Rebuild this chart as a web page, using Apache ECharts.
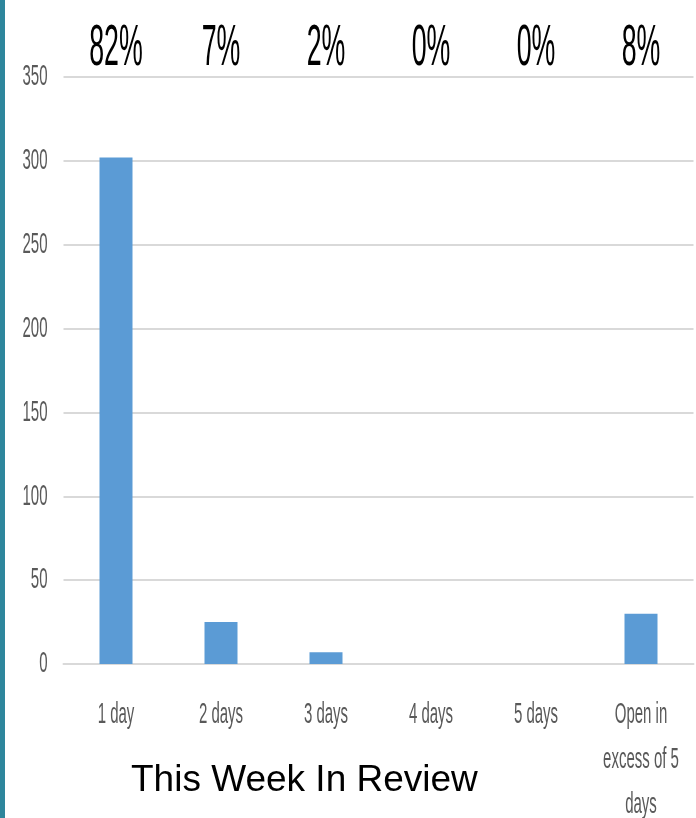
<!DOCTYPE html>
<html>
<head>
<meta charset="utf-8">
<script src="https://cdn.jsdelivr.net/npm/echarts@6/dist/echarts.min.js"></script>
<style>
  html, body { margin: 0; padding: 0; background: #fff; }
  #chart { width: 696px; height: 818px; }
</style>
</head>
<body>
<div id="chart"></div>
<script>
// values
const categories = ['1 day', '2 days', '3 days', '4 days', '5 days', 'Open in\nexcess of 5\ndays']
const counts = [302, 25, 7, 0, 0, 30]
const percentLabels = ['82%', '7%', '2%', '0%', '0%', '8%']
const yTicks = [0, 50, 100, 150, 200, 250, 300, 350]

// the source image is squashed sideways, so texts get a scaleX
const sans = '"Liberation Sans", Arial, sans-serif'
const squeeze = 0.5

const chart = echarts.init(document.getElementById('chart'))

const squashedText = (x, y, text, opts) => ({
  type: 'text',
  x: x,
  y: y,
  scaleX: opts.scale || squeeze,
  style: {
    text: text,
    x: 0,
    y: 0,
    align: opts.align || 'center',
    verticalAlign: opts.verticalAlign || 'middle',
    fontFamily: sans,
    fontSize: opts.fontSize,
    lineHeight: opts.lineHeight,
    fill: opts.color
  }
})

const option = {
  animation: false,
  backgroundColor: '#fff',
  title: {
    text: 'This Week In Review',
    left: 126,
    top: 757,
    textStyle: {
      fontFamily: sans,
      fontSize: 37,
      fontWeight: 'normal',
      color: '#000'
    }
  },
  graphic: [
    {
      type: 'rect',
      shape: { x: 0, y: 0, width: 5, height: 818 },
      style: { fill: '#2E869C' }
    }
  ],
  grid: {
    left: 63.5,
    right: 2.5,
    top: 77,
    bottom: 154,
    containLabel: false
  },
  xAxis: {
    type: 'category',
    data: categories,
    axisLine: { lineStyle: { color: '#d9d9d9', width: 2 } },
    axisTick: { show: false },
    axisLabel: { show: false }
  },
  yAxis: {
    type: 'value',
    min: yTicks[0],
    max: yTicks[yTicks.length - 1],
    interval: 50,
    axisLine: { show: false },
    axisTick: { show: false },
    splitLine: { lineStyle: { color: '#d9d9d9', width: 2 } },
    axisLabel: { show: false }
  },
  series: [
    {
      type: 'bar',
      data: counts,
      barWidth: 33,
      itemStyle: { color: '#5B9BD5' }
    },
    {
      // percentage row above the plot
      type: 'custom',
      silent: true,
      data: percentLabels.map((p, i) => [i, yTicks[yTicks.length - 1]]),
      renderItem: (params, api) => {
        const pt = api.coord([api.value(0), api.value(1)])
        return squashedText(pt[0], pt[1] - 28, percentLabels[params.dataIndex], {
          fontSize: 57, scale: 0.47, color: '#000'
        })
      }
    },
    {
      // category labels under the axis
      type: 'custom',
      silent: true,
      data: categories.map((c, i) => [i, 0]),
      renderItem: (params, api) => {
        const pt = api.coord([api.value(0), api.value(1)])
        return squashedText(pt[0], pt[1] + 28, categories[params.dataIndex], {
          fontSize: 30, lineHeight: 45, verticalAlign: 'top', color: '#595959'
        })
      }
    },
    {
      // value labels left of the grid
      type: 'custom',
      silent: true,
      data: yTicks.map(t => [0, t]),
      renderItem: (params, api) => {
        const pt = api.coord([api.value(0), api.value(1)])
        return squashedText(params.coordSys.x - 16, pt[1], String(yTicks[params.dataIndex]), {
          fontSize: 30, align: 'right', color: '#595959'
        })
      }
    }
  ]
}

chart.setOption(option)
</script>
</body>
</html>
